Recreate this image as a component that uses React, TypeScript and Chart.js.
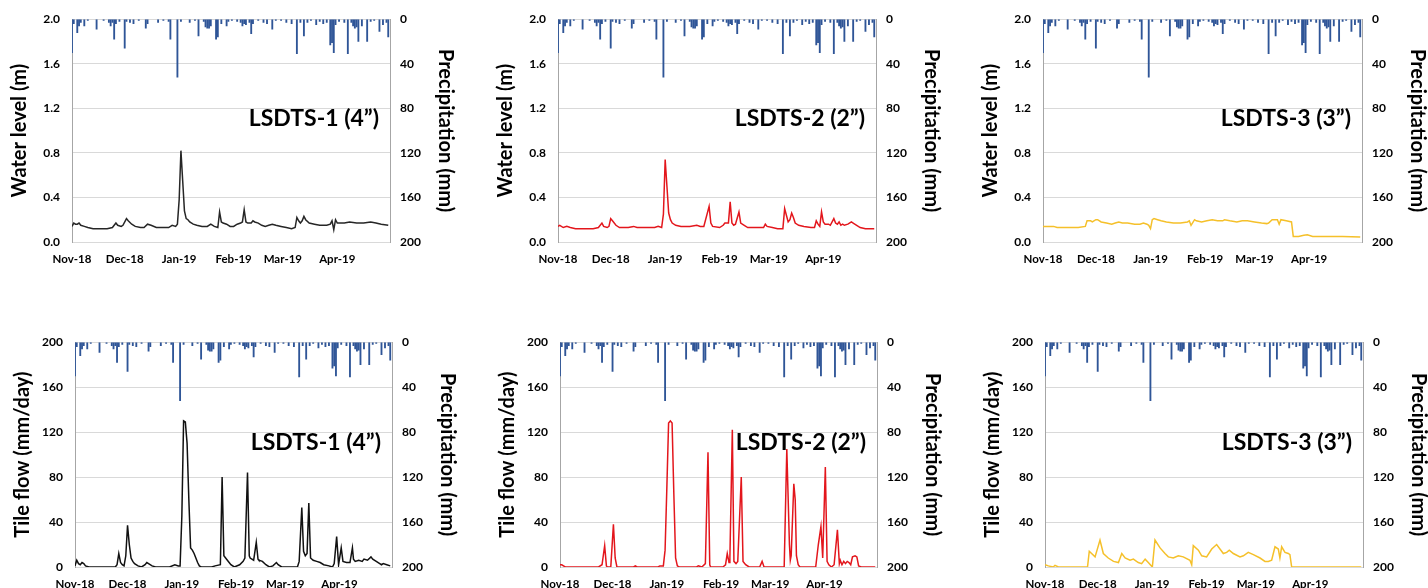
import React, { useEffect, useRef } from "react";
import { Chart, registerables } from "chart.js";

Chart.register(...registerables);
Chart.defaults.font.family = "Lato, 'Open Sans', sans-serif";

// x axis: day index counted from 1 Nov 2018
const monthDays = [0, 30, 61, 92, 120, 151];
const monthLabels = ["Nov-18", "Dec-18", "Jan-19", "Feb-19", "Mar-19", "Apr-19"];

// daily precipitation (mm), same station for all panels
const precipDays = [0, 1, 3, 4, 5, 7, 9, 14, 18, 21, 22, 23, 24, 25, 27, 30, 31, 33, 35, 38, 42, 43, 49, 52, 55, 56, 60, 62, 67, 70, 72, 75, 76, 77, 78, 79, 82, 83, 85, 88, 89, 91, 94, 96, 97, 98, 99, 101, 102, 103, 106, 109, 111, 114, 116, 119, 122, 125, 128, 130, 132, 134, 136, 139, 141, 143, 145, 147, 148, 149, 150, 152, 155, 157, 159, 160, 161, 162, 163, 165, 168, 170, 172, 175, 177, 179, 180];
const precipMm = [30, 4, 12, 6, 3, 6, 1, 9, 1, 3, 6, 3, 18, 4, 2, 26, 2, 3, 4, 1, 8, 4, 3, 1, 2, 18, 52, 2, 3, 1, 15, 2, 7, 8, 8, 6, 18, 16, 4, 6, 2, 1, 2, 3, 6, 4, 5, 3, 13, 4, 1, 3, 4, 9, 1, 1, 3, 4, 31, 3, 15, 3, 1, 5, 2, 4, 3, 23, 21, 30, 5, 2, 3, 31, 3, 6, 8, 7, 20, 6, 20, 2, 1, 11, 5, 3, 16];

// water level (m): [day, value]
const waterLevel1: [number, number][] = [[0,0.14],[1,0.17],[2,0.16],[3,0.16],[4,0.17],[5,0.15],[7,0.14],[9,0.13],[12,0.12],[20,0.12],[23,0.13],[25,0.17],[26,0.15],[28,0.14],[29,0.15],[31,0.21],[32,0.19],[34,0.16],[36,0.14],[39,0.13],[41,0.13],[43,0.16],[45,0.15],[48,0.13],[55,0.13],[57,0.15],[59,0.14],[60,0.16],[61,0.38],[62,0.82],[63,0.55],[64,0.28],[65,0.21],[66,0.2],[67,0.18],[69,0.16],[71,0.15],[74,0.14],[77,0.14],[79,0.16],[81,0.14],[83,0.13],[84,0.27],[85,0.18],[86,0.17],[88,0.16],[90,0.14],[92,0.14],[94,0.16],[96,0.17],[97,0.18],[98,0.29],[99,0.18],[100,0.17],[102,0.17],[103,0.19],[104,0.18],[106,0.17],[108,0.15],[110,0.14],[112,0.15],[114,0.16],[116,0.15],[119,0.14],[122,0.13],[125,0.12],[127,0.13],[128,0.22],[129,0.19],[130,0.17],[131,0.19],[132,0.23],[133,0.2],[135,0.17],[138,0.16],[141,0.15],[145,0.15],[147,0.16],[148,0.19],[149,0.11],[150,0.2],[151,0.17],[155,0.17],[158,0.18],[162,0.17],[166,0.17],[170,0.18],[173,0.17],[176,0.16],[180,0.15]];
const waterLevel2: [number, number][] = [[0,0.14],[1,0.15],[3,0.13],[5,0.14],[7,0.13],[10,0.12],[20,0.12],[23,0.13],[25,0.17],[26,0.14],[28,0.13],[29,0.14],[30,0.21],[31,0.19],[33,0.15],[35,0.13],[40,0.13],[43,0.14],[45,0.13],[55,0.13],[57,0.14],[59,0.13],[60,0.25],[61,0.74],[62,0.5],[63,0.26],[64,0.2],[65,0.17],[67,0.15],[70,0.14],[75,0.14],[79,0.15],[81,0.14],[83,0.14],[86,0.32],[87,0.17],[88,0.14],[92,0.13],[94,0.15],[95,0.17],[97,0.17],[98,0.36],[99,0.17],[100,0.15],[101,0.16],[103,0.27],[104,0.17],[106,0.15],[108,0.13],[114,0.13],[117,0.13],[118,0.16],[119,0.14],[122,0.13],[125,0.12],[128,0.12],[129,0.3],[130,0.24],[131,0.18],[132,0.2],[133,0.26],[134,0.22],[135,0.17],[137,0.15],[140,0.14],[144,0.13],[146,0.13],[147,0.19],[148,0.16],[149,0.14],[150,0.27],[151,0.18],[152,0.16],[154,0.16],[155,0.15],[157,0.21],[158,0.17],[159,0.16],[160,0.18],[161,0.15],[162,0.16],[163,0.15],[165,0.16],[167,0.18],[168,0.17],[170,0.15],[172,0.13],[175,0.12],[180,0.12]];
const waterLevel3: [number, number][] = [[0,0.14],[3,0.14],[6,0.14],[8,0.13],[12,0.13],[16,0.13],[20,0.13],[24,0.14],[25,0.19],[27,0.19],[28,0.18],[30,0.2],[31,0.2],[33,0.18],[36,0.17],[39,0.16],[41,0.17],[43,0.18],[45,0.17],[48,0.17],[52,0.16],[55,0.16],[57,0.17],[59,0.16],[60,0.15],[61,0.12],[62,0.2],[63,0.21],[65,0.2],[67,0.19],[70,0.18],[74,0.17],[78,0.17],[82,0.18],[83,0.19],[84,0.15],[86,0.2],[87,0.19],[90,0.18],[93,0.19],[96,0.2],[99,0.19],[102,0.19],[103,0.2],[106,0.19],[110,0.18],[113,0.19],[116,0.19],[120,0.18],[124,0.17],[127,0.165],[128,0.17],[130,0.2],[131,0.2],[133,0.2],[134,0.16],[135,0.2],[138,0.19],[141,0.18],[142,0.05],[145,0.05],[148,0.06],[150,0.065],[153,0.05],[160,0.05],[170,0.05],[180,0.045]];

// tile flow (mm/day): [day, value]
const tileFlow1: [number, number][] = [[0,1],[1,6],[2,3],[3,2],[4,4],[5,3],[6,1],[8,0],[23,0],[24,2],[25,12],[26,4],[27,2],[28,1],[29,10],[30,37],[31,20],[32,8],[33,5],[34,3],[36,1],[38,0],[40,2],[41,4],[42,3],[44,1],[46,0],[54,0],[57,2],[59,1],[60,1],[61,45],[62,130],[63,129],[64,110],[65,60],[66,17],[67,15],[68,12],[69,8],[70,4],[71,1],[72,0],[78,0],[80,1],[83,2],[84,80],[85,10],[86,8],[87,6],[89,2],[91,0],[94,2],[96,5],[97,8],[98.5,84],[99.5,10],[100,8],[102,6],[103.5,22],[104.5,7],[105,6],[107,5],[109,2],[111,0],[113,1],[115,4],[116,2],[118,0],[127,0],[128,5],[129.5,53],[130.5,14],[131.5,10],[132.5,12],[133.5,57],[134.5,8],[136,6],[138,5],[140,4],[142,2],[145,1],[147,0],[148,3],[149.4,27],[150.5,2],[152,17],[153,5],[155,4],[157,4],[158.4,17],[159,7],[160,5],[162,6],[164,5],[165,7],[167,6],[169,9],[170,7],[172,5],[174,3],[175,2],[176,3],[178,2],[180,1]];
const tileFlow2: [number, number][] = [[0,2],[1,2],[2,1],[3,0],[22,0],[24,2],[25.5,19],[26.5,1],[27,0],[29,0],[30.5,38],[31.5,8],[32.5,0],[42,0],[43,1],[44,0],[56,0],[57,1],[59,1],[60,15],[61,70],[62,128],[63,130],[64,128],[65,65],[66,8],[67,1],[68,0],[78,0],[79,1],[81,0],[83,3],[84.5,102],[85.5,2],[86,0],[93,0],[94.5,2],[95.5,12],[96.5,4],[97,8],[98.4,122],[99.3,5],[100.5,3],[101.5,5],[103.5,80],[104.5,5],[106,2],[108,0],[114,0],[115.4,5],[116.5,0],[128,0],[129.5,105],[131,20],[131.5,6],[132,10],[133.5,74],[134.3,60],[135,10],[136,2],[137,0],[146,0],[147.5,20],[149,36],[150,8],[151.5,89],[152.5,5],[153.5,2],[155,0],[156.5,2],[158.4,33],[159.5,3],[160,6],[161,2],[162,5],[163,3],[164,5],[165,4],[166,2],[167,9],[168.5,10],[169.5,9],[170.5,1],[172,0],[180,0]];
const tileFlow3: [number, number][] = [[0,2],[1.9,1],[4.7,0],[5.7,1.5],[7.6,0],[24.2,0],[25.2,14],[28.5,9],[31.3,24],[33.2,12],[36,8],[39,5],[41.8,4],[43.7,12],[45.6,8],[48.4,6],[50.3,7],[53.1,4],[55,3],[57,7],[58.8,4],[61.1,0],[62.6,24],[65.5,17],[68.3,12],[70.2,9],[73,8],[75.9,10],[78.7,9],[82.5,6],[83.5,2],[84.4,19],[87.3,15],[89.2,10],[92,9],[94.9,16],[97.7,20],[101.5,12],[103.4,13],[104.9,15],[107.2,12],[111,9],[112.9,10],[115.7,13],[118.6,11],[122.4,8],[125.2,5],[127.1,5],[129,6],[130.9,18],[132.8,16],[133.7,8],[134.7,18],[136.6,13],[138.5,12],[139.4,11],[140.4,0],[180,0]];

type Spec = {
  series: [number, number][];
  color: string;
  yMax: number;
  yStep: number;
  decimals: number;
  yTitle: string;
  label: string;
  plot: { left: number; right: number; top: number; bottom: number };
};

const LEFT_W = 72;
const RIGHT_W = 67;
const TOP_PAD = 18;
const BOTTOM_H = 30;

const specs: Spec[] = [
  { series: waterLevel1, color: "#262626", yMax: 2, yStep: 0.4, decimals: 1, yTitle: "Water level (m)", label: "LSDTS-1 (4\u201D)", plot: { left: 72, right: 390, top: 18, bottom: 242 } },
  { series: waterLevel2, color: "#E3161C", yMax: 2, yStep: 0.4, decimals: 1, yTitle: "Water level (m)", label: "LSDTS-2 (2\u201D)", plot: { left: 558, right: 876, top: 18, bottom: 242 } },
  { series: waterLevel3, color: "#F5C02A", yMax: 2, yStep: 0.4, decimals: 1, yTitle: "Water level (m)", label: "LSDTS-3 (3\u201D)", plot: { left: 1043, right: 1362, top: 18, bottom: 242 } },
  { series: tileFlow1, color: "#111111", yMax: 200, yStep: 40, decimals: 0, yTitle: "Tile flow (mm/day)", label: "LSDTS-1 (4\u201D)", plot: { left: 75, right: 392, top: 341, bottom: 567 } },
  { series: tileFlow2, color: "#E3161C", yMax: 200, yStep: 40, decimals: 0, yTitle: "Tile flow (mm/day)", label: "LSDTS-2 (2\u201D)", plot: { left: 560, right: 877, top: 341, bottom: 567 } },
  { series: tileFlow3, color: "#F5C02A", yMax: 200, yStep: 40, decimals: 0, yTitle: "Tile flow (mm/day)", label: "LSDTS-3 (3\u201D)", plot: { left: 1045, right: 1363, top: 341, bottom: 567 } },
];

function Panel({ spec }: { spec: Spec }) {
  const ref = useRef<HTMLCanvasElement>(null);
  const w = spec.plot.right - spec.plot.left + LEFT_W + RIGHT_W;
  const h = spec.plot.bottom - spec.plot.top + TOP_PAD + BOTTOM_H;
  useEffect(() => {
    if (!ref.current) return;
    const tickFont = { size: 12, weight: "bold" as const };
    const titleFont = { size: 20, weight: "bold" as const };
    const chart = new Chart(ref.current, {
      type: "bar",
      data: {
        datasets: [
          {
            type: "line" as const,
            data: spec.series.map(([x, y]) => ({ x, y })),
            yAxisID: "y",
            borderColor: spec.color,
            borderWidth: 1.5,
            pointRadius: 0,
            tension: 0,
            order: 0,
          } as any,
          {
            type: "bar" as const,
            data: precipDays.map((d, i) => ({ x: d, y: precipMm[i] })),
            yAxisID: "y1",
            backgroundColor: "#2F5597",
            barThickness: 1.2,
            order: 1,
          } as any,
        ],
      },
      options: {
        animation: false,
        responsive: false,
        maintainAspectRatio: false,
        layout: { padding: { top: TOP_PAD, left: 0, right: 0, bottom: 0 } },
        plugins: { legend: { display: false }, tooltip: { enabled: false } },
        scales: {
          x: {
            type: "linear",
            offset: false,
            min: 0,
            max: 181,
            grid: { display: false, drawTicks: false, offset: false },
            border: { display: false },
            afterBuildTicks: (scale: any) => {
              scale.ticks = monthDays.map((v) => ({ value: v }));
            },
            afterFit: (scale: any) => {
              scale.height = BOTTOM_H;
            },
            ticks: {
              autoSkip: false,
              maxRotation: 0,
              padding: 10,
              color: "#000",
              font: { size: 11.5, weight: "bold" },
              callback: (v: any) => {
                const i = monthDays.indexOf(Number(v));
                return i >= 0 ? monthLabels[i] : "";
              },
            },
          },
          y: {
            position: "left",
            min: 0,
            max: spec.yMax,
            grid: { color: "#D9D9D9", drawTicks: false },
            border: { color: "#A6A6A6", width: 1 },
            afterFit: (scale: any) => {
              scale.width = LEFT_W;
            },
            ticks: {
              stepSize: spec.yStep,
              padding: 12,
              color: "#000",
              font: tickFont,
              callback: (v: any) => Number(v).toFixed(spec.decimals),
            },
            title: { display: true, text: spec.yTitle, color: "#000", font: titleFont, padding: { top: 8, bottom: 0 } },
          },
          y1: {
            position: "right",
            min: 0,
            max: 200,
            reverse: true,
            grid: { drawOnChartArea: false, drawTicks: false },
            border: { color: "#A6A6A6", width: 1 },
            afterFit: (scale: any) => {
              scale.width = RIGHT_W;
            },
            ticks: { stepSize: 40, padding: 10, color: "#000", font: tickFont },
            title: { display: true, text: "Precipitation (mm)", color: "#000", font: titleFont, padding: { top: 0, bottom: 0 } },
          },
        },
      } as any,
      plugins: [
        {
          id: "panelLabel",
          afterDatasetsDraw(c: any) {
            const { ctx, chartArea } = c;
            ctx.save();
            ctx.font = "bold 23px Lato, 'Open Sans', sans-serif";
            ctx.fillStyle = "#000";
            ctx.textAlign = "right";
            ctx.textBaseline = "middle";
            ctx.fillText(spec.label, chartArea.right - 11, chartArea.top + 0.447 * (chartArea.bottom - chartArea.top));
            ctx.restore();
          },
        },
      ],
    });
    return () => chart.destroy();
  }, []);
  return (
    <canvas
      ref={ref}
      width={w}
      height={h}
      style={{ position: "absolute", left: spec.plot.left - LEFT_W, top: spec.plot.top - TOP_PAD, width: w, height: h }}
    />
  );
}

export default function App() {
  return (
    <div style={{ position: "fixed", left: 0, top: 0, width: 1428, height: 588, overflow: "hidden", background: "#fff" }}>
      {specs.map((s, i) => (
        <Panel key={i} spec={s} />
      ))}
    </div>
  );
}
